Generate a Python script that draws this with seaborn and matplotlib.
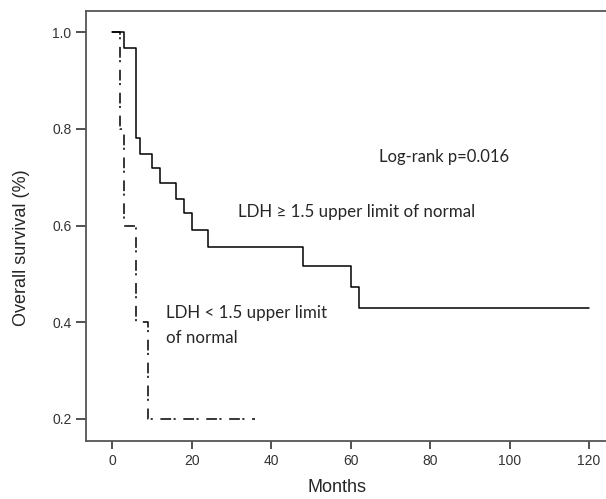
import pandas as pd
import seaborn as sns
import matplotlib.pyplot as plt

# Kaplan-Meier step values
high_months = [0, 3, 6, 7, 10, 12, 16, 18, 20, 24, 48, 60, 62, 120]
high_surv = [1.0, 0.968, 0.781, 0.748, 0.719, 0.687, 0.655, 0.625, 0.590, 0.556, 0.517, 0.473, 0.430, 0.430]

low_months = [0, 2, 3, 6, 9, 36]
low_surv = [1.0, 0.8, 0.6, 0.4, 0.2, 0.2]

x_ticks = [0, 20, 40, 60, 80, 100, 120]
y_ticks = [0.2, 0.4, 0.6, 0.8, 1.0]

high_df = pd.DataFrame({'Months': high_months, 'Survival': high_surv})
low_df = pd.DataFrame({'Months': low_months, 'Survival': low_surv})

sns.set_style('ticks')
plt.rcParams['font.family'] = ['Liberation Sans', 'DejaVu Sans']

fig = plt.figure(figsize=(6.06, 4.99), dpi=100)
ax = fig.add_axes([0.1419, 0.1162, 0.87, 0.8617])

sns.lineplot(data=high_df, x='Months', y='Survival', drawstyle='steps-post',
             estimator=None, color='black', linewidth=1.1, ax=ax)
line = sns.lineplot(data=low_df, x='Months', y='Survival', drawstyle='steps-post',
                    estimator=None, color='black', linewidth=1.1, ax=ax).lines[-1]
line.set_dashes([7, 1.6, 1.4, 5])

ax.set_xlim(-6.64, 126.1)
ax.set_ylim(0.1539, 1.044)
ax.set_xticks(x_ticks)
ax.set_yticks(y_ticks)
ax.set_xticklabels([str(t) for t in x_ticks])
ax.set_yticklabels(['%.1f' % t for t in y_ticks])
ax.tick_params(labelsize=10, colors='#333333', width=1.2)
ax.tick_params(axis='x', length=6)
ax.tick_params(axis='y', length=7)
for sp in ax.spines.values():
    sp.set_color('#555555')
    sp.set_linewidth(1.3)
ax.spines['right'].set_visible(False)

ax.set_xlabel('Months', fontsize=13)
ax.set_ylabel('Overall survival (%)', fontsize=13)
ax.xaxis.set_label_coords(0.477, -0.088)
ax.yaxis.set_label_coords(-0.106, 0.45)

note_font = ['Lato', 'DejaVu Sans']
ax.text(67.1, 0.731, 'Log-rank p=0.016', fontsize=12, family=note_font, va='baseline')
ax.text(31.7, 0.6176, 'LDH \u2265 1.5 upper limit of normal', fontsize=12.2, family=note_font, va='baseline')
ax.text(13.5, 0.4088, 'LDH < 1.5 upper limit', fontsize=12.2, family=note_font, va='baseline')
ax.text(13.5, 0.357, 'of normal', fontsize=12.2, family=note_font, va='baseline')

plt.savefig('out.png', dpi=100)
